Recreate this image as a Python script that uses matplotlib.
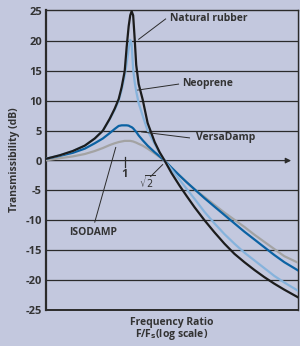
import numpy as np
import matplotlib.pyplot as plt

# frequency ratio F/Fs (log axis) and transmissibility in dB
ratio = [0.505, 0.570, 0.637, 0.707, 0.771, 0.827, 0.878, 0.917, 0.949, 0.974,
         1.0, 1.017, 1.035, 1.049, 1.062, 1.076, 1.090, 1.105, 1.129, 1.169,
         1.220, 1.297, 1.354, 1.414, 1.502, 1.610, 1.710, 1.833, 2.0, 2.179,
         2.376, 2.591, 2.826, 3.082, 3.360, 3.664, 3.996, 4.51]

natural_rubber = [0.3, 0.9, 1.6, 2.5, 3.7, 5.0, 7.0, 8.7, 10.3, 12.3,
                  15, 19, 22.5, 24.3, 25.0, 24.3, 20.5, 16, 12.8, 10.2,
                  6.3, 3.1, 1.4, 0, -2.1, -4.2, -5.9, -7.8, -10, -12,
                  -13.9, -15.6, -17.0, -18.3, -19.5, -20.6, -21.6, -22.9]

neoprene = [0.3, 0.9, 1.6, 2.5, 3.7, 5.0, 6.9, 8.5, 10.0, 11.8,
            14.2, 16.3, 18.7, 20.2, 19.5, 15.3, 13.2, 11.6, 9.6, 7.5,
            5.0, 2.8, 1.2, 0, -1.5, -3.2, -4.7, -6.4, -8.6, -10.5,
            -12.3, -13.9, -15.4, -16.7, -18.0, -19.3, -20.4, -21.8]

versadamp = [0.3, 0.8, 1.3, 2.0, 2.9, 3.7, 4.6, 5.3, 5.8, 5.9,
             5.9, 5.9, 5.85, 5.7, 5.6, 5.4, 5.1, 4.8, 4.2, 3.4,
             2.5, 1.4, 0.7, 0, -1.2, -2.5, -3.6, -4.8, -6.3, -7.7,
             -9.1, -10.5, -11.9, -13.2, -14.5, -15.8, -17.0, -18.4]

isodamp = [0.05, 0.4, 0.7, 1.1, 1.6, 2.1, 2.6, 2.9, 3.1, 3.2,
           3.3, 3.3, 3.3, 3.3, 3.25, 3.2, 3.1, 3.0, 2.8, 2.5,
           2.0, 1.2, 0.6, 0, -1.2, -2.5, -3.6, -4.8, -6.1, -7.4,
           -8.7, -9.9, -11.1, -12.4, -13.6, -14.8, -16.0, -17.1]

y_ticks = [25, 20, 15, 10, 5, 0, -5, -10, -15, -20, -25]

bg = '#c3c8de'
ink = '#2b2b2b'
txt = '#333333'
font = 'Open Sans'

fig = plt.figure(figsize=(3.0, 3.46), dpi=100, facecolor=bg)
ax = fig.add_axes([46/300, 1 - 310/346, 252/300, 300/346])
ax.set_facecolor(bg)
ax.set_xscale('log')
ax.set_xlim(0.505, 4.5)
ax.set_ylim(-25, 25.2)

# horizontal rules; the zero line is an arrow
for yv in y_ticks:
    if yv != 0 and abs(yv) != 25:
        ax.axhline(yv, color=ink, lw=0.9, zorder=1)
ax.annotate('', xy=(4.24, 0), xytext=(0.505, 0),
            arrowprops=dict(arrowstyle='-|>', color=ink, lw=0.9,
                            mutation_scale=8, shrinkA=0, shrinkB=0), zorder=1)
ax.plot([1, 1], [0.67, -1.0], color=ink, lw=0.9, zorder=1)

ax.plot(ratio, isodamp, color='#a3a3a3', lw=1.6, zorder=3, solid_joinstyle='round')
ax.plot(ratio, versadamp, color='#0b62a3', lw=1.6, zorder=4, solid_joinstyle='round')
ax.plot(ratio, neoprene, color='#86b3dc', lw=1.6, zorder=5, solid_joinstyle='round')
ax.plot(ratio, natural_rubber, color='#1c1c1c', lw=1.6, zorder=6, solid_joinstyle='round')

for s in ax.spines.values():
    s.set_color(ink)
    s.set_linewidth(1.0)
ax.spines['left'].set_linewidth(1.6)
ax.spines['bottom'].set_linewidth(1.4)

ax.set_yticks(y_ticks)
ax.set_yticklabels([str(v) for v in y_ticks], fontsize=8, fontweight='bold',
                   color=txt, family=font)
ax.tick_params(axis='y', length=0, pad=3)
ax.set_xticks([])
ax.xaxis.set_minor_locator(plt.NullLocator())

ax.set_ylabel('Transmissibility (dB)', fontsize=7.5, fontweight='bold', color=txt,
              family=font, labelpad=4)

fig.text(172/300, 1 - 322/346, 'Frequency Ratio', ha='center', va='center',
         fontsize=7.5, fontweight='bold', color=txt, family=font)
fig.text(172/300, 1 - 334/346, r'F/F$_\mathbf{s}$(log scale)', ha='center', va='center',
         fontsize=7.5, fontweight='bold', color=txt, family=font)

labels = [
    ('Natural rubber', (1.129, 20.3), (1.426, 23.7), (1.476, 23.7), 'left'),
    ('Neoprene', (1.119, 11.8), (1.596, 12.8), (1.652, 12.9), 'left'),
    ('VersaDamp', (1.158, 4.8), (1.755, 3.8), (1.85, 3.8), 'left'),
    ('ISODAMP', (0.925, 2.2), (0.771, -10.3), (0.758, -12.0), 'center'),
]
for name, p0, p1, pt, ha in labels:
    ax.plot([p0[0], p1[0]], [p0[1], p1[1]], color=ink, lw=0.7, zorder=7)
    ax.text(pt[0], pt[1], name, ha=ha, va='center', fontsize=7.5,
            fontweight='bold', color=txt, family=font, zorder=8)

ax.plot([1.39, 1.252], [-0.67, -2.67], color=ink, lw=0.7, zorder=7)
ax.text(1.22, -3.5, r'$\sqrt{2}$', ha='center', va='center', fontsize=7,
        color=txt, zorder=8)
ax.text(1.0, -2.4, '1', ha='center', va='center', fontsize=8,
        fontweight='bold', color=txt, family=font, zorder=8)

fig.savefig('out.png', dpi=100, facecolor=bg)
